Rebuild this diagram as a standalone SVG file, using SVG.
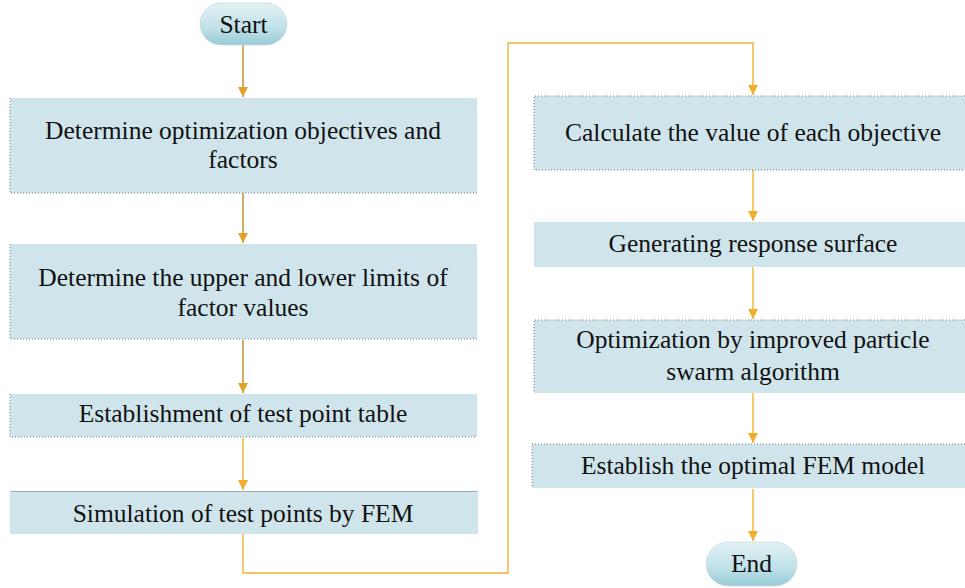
<svg xmlns="http://www.w3.org/2000/svg" width="965" height="588" viewBox="0 0 965 588">
  <defs>
    <linearGradient id="ovalFill" x1="0" y1="0" x2="0" y2="1">
      <stop offset="0" stop-color="#e2f2f5"/>
      <stop offset="0.6" stop-color="#bfe0e8"/>
      <stop offset="1" stop-color="#98cbd7"/>
    </linearGradient>
    <marker id="arrow" viewBox="0 0 10 10" refX="10" refY="5" markerWidth="10" markerHeight="10" markerUnits="userSpaceOnUse" orient="auto">
      <path d="M0,0 L10,5 L0,10 Z" fill="#f2ad2a"/>
    </marker>
    <marker id="arrowDark" viewBox="0 0 10 10" refX="10" refY="5" markerWidth="10" markerHeight="10" markerUnits="userSpaceOnUse" orient="auto">
      <path d="M0,0 L10,5 L0,10 Z" fill="#e0a228"/>
    </marker>
  </defs>
  <style>
    .box { fill: #cfe5eb; }
    .edge { stroke: #7a7a7a; stroke-width: 1; stroke-dasharray: 1 2; fill: none; }
    .oval { fill: url(#ovalFill); stroke: #c8dde2; stroke-width: 0.8; }
    .label { font-family: "Liberation Serif", "Times New Roman", serif; font-size: 25.5px; fill: #111111; text-anchor: middle; }
    .link { fill: none; stroke: #f4b233; stroke-width: 1.4; marker-end: url(#arrow); }
    .linkDark { fill: none; stroke: #c99a3e; stroke-width: 1.6; marker-end: url(#arrowDark); }
  </style>

  <!-- connectors -->
  <g id="connectors">
    <path class="linkDark" d="M243,45 V97"/>
    <path class="linkDark" d="M243,193 V243"/>
    <path class="linkDark" d="M243,340 V393"/>
    <path class="link" d="M243,438 V490"/>
    <path class="link" d="M243,534 V573 H508 V43 H753 V95"/>
    <path class="link" d="M753,170 V221"/>
    <path class="link" d="M753,267 V319"/>
    <path class="link" d="M753,393 V443"/>
    <path class="link" d="M753,489 V541"/>
  </g>

  <!-- terminals -->
  <g id="start">
    <rect class="oval" x="200" y="3" width="87" height="42" rx="21" ry="21"/>
    <text class="label" x="243.5" y="33">Start</text>
  </g>
  <g id="end">
    <rect class="oval" x="706" y="542" width="91" height="44" rx="22" ry="22"/>
    <text class="label" x="751.5" y="572">End</text>
  </g>

  <!-- left column -->
  <g id="objectives">
    <rect class="box" x="10" y="98" width="467" height="95"/>
    <path class="edge" d="M10,98 V193 H477"/>
    <text class="label" x="243" y="139">Determine optimization objectives and</text>
    <text class="label" x="243" y="168">factors</text>
  </g>
  <g id="limits">
    <rect class="box" x="10" y="244" width="467" height="95"/>
    <path class="edge" d="M10,244 V339 H477"/>
    <text class="label" x="243" y="286">Determine the upper and lower limits of</text>
    <text class="label" x="243" y="316">factor values</text>
  </g>
  <g id="test-table">
    <rect class="box" x="10" y="394" width="467" height="43"/>
    <path class="edge" d="M10,394 V437 H477"/>
    <text class="label" x="243" y="422">Establishment of test point table</text>
  </g>
  <g id="fem-simulation">
    <rect class="box" x="10" y="491" width="468" height="43"/>
    <path d="M10,491.5 H478" stroke="#9aaab0" stroke-width="1"/>
    <text class="label" x="243" y="522">Simulation of test points by FEM</text>
  </g>

  <!-- right column -->
  <g id="objective-values">
    <rect class="box" x="534" y="96" width="440" height="74"/>
    <path class="edge" d="M965,96 H534 V170 H965"/>
    <text class="label" x="753" y="141">Calculate the value of each objective</text>
  </g>
  <g id="response-surface">
    <rect class="box" x="534" y="222" width="440" height="45"/>
    <text class="label" x="753" y="252">Generating response surface</text>
  </g>
  <g id="pso">
    <rect class="box" x="534" y="320" width="440" height="73"/>
    <path class="edge" d="M965,320 H534 V393"/>
    <text class="label" x="753" y="348">Optimization by improved particle</text>
    <text class="label" x="753" y="380">swarm algorithm</text>
  </g>
  <g id="optimal-model">
    <rect class="box" x="532" y="444" width="440" height="44"/>
    <path class="edge" d="M965,444 H532 V488"/>
    <text class="label" x="753" y="474">Establish the optimal FEM model</text>
  </g>
</svg>
